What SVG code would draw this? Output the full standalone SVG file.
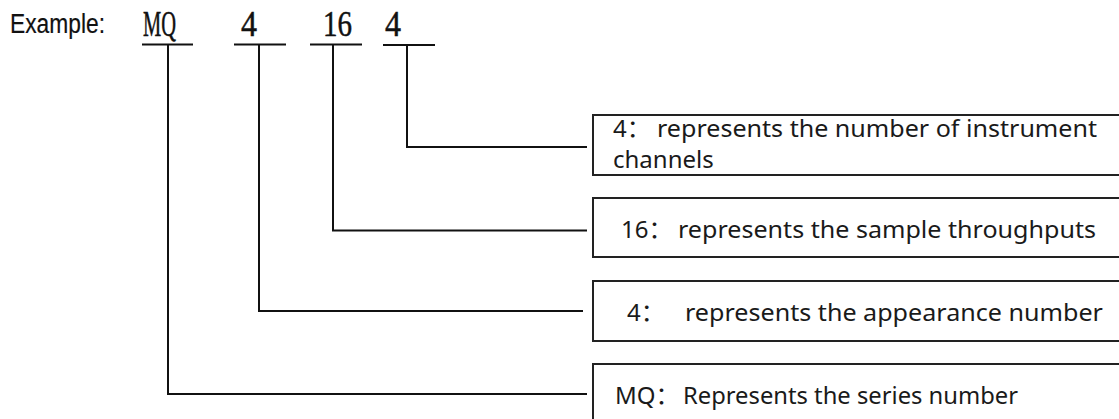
<svg xmlns="http://www.w3.org/2000/svg" width="1119" height="419" viewBox="0 0 1119 419">
<style>
.bg{fill:#fff}
.code{font-family:"Liberation Serif","Times New Roman",serif;font-size:35px;fill:#111;stroke:#111;stroke-width:0.5}
.lbl{font-family:"Liberation Sans",Arial,sans-serif;font-size:27px;fill:#111;stroke:#111;stroke-width:0.2}
.box{fill:#fff;stroke:#222;stroke-width:2}
.txt{font-family:"Noto Sans","Noto Sans CJK SC",sans-serif;font-size:24px;fill:#1a1a1a}
.ln{fill:none;stroke:#111;stroke-width:2}
</style>
<rect class="bg" x="0" y="0" width="1119" height="419"/>
<g id="header">
<text class="lbl" x="10" y="33" textLength="95" lengthAdjust="spacingAndGlyphs">Example:</text>
<text class="code" x="143" y="36" textLength="33" lengthAdjust="spacingAndGlyphs">MQ</text>
<text class="code" x="241" y="36" textLength="16" lengthAdjust="spacingAndGlyphs">4</text>
<text class="code" x="323" y="36" textLength="29" lengthAdjust="spacingAndGlyphs">16</text>
<text class="code" x="385" y="36" textLength="16" lengthAdjust="spacingAndGlyphs">4</text>
</g>
<g id="connectors">
<path class="ln" d="M142 44.5H193M234 44.5H286M310 44.5H362M383 45H435"/>
<path class="ln" d="M407 45V147H587"/>
<path class="ln" d="M333 45V230.5H587"/>
<path class="ln" d="M259 45V311H583"/>
<path class="ln" d="M168 45V394H587"/>
</g>
<g id="node-channels">
<rect class="box" x="593" y="115" width="540" height="60"/>
<text class="txt" y="137"><tspan x="613">4：</tspan><tspan x="657" textLength="440" lengthAdjust="spacingAndGlyphs">represents the number of instrument</tspan></text>
<text class="txt" x="613" y="168">channels</text>
</g>
<g id="node-throughputs">
<rect class="box" x="593" y="198" width="540" height="59"/>
<text class="txt" y="238"><tspan x="621">16：</tspan><tspan x="678" textLength="418" lengthAdjust="spacingAndGlyphs">represents the sample throughputs</tspan></text>
</g>
<g id="node-appearance">
<rect class="box" x="593" y="281" width="540" height="60"/>
<text class="txt" y="321"><tspan x="627">4：</tspan><tspan x="685" textLength="418" lengthAdjust="spacingAndGlyphs">represents the appearance number</tspan></text>
</g>
<g id="node-series">
<rect class="box" x="593" y="364" width="540" height="80"/>
<text class="txt" y="404"><tspan x="615">MQ：</tspan><tspan x="683" textLength="335" lengthAdjust="spacingAndGlyphs">Represents the series number</tspan></text>
</g>
</svg>
